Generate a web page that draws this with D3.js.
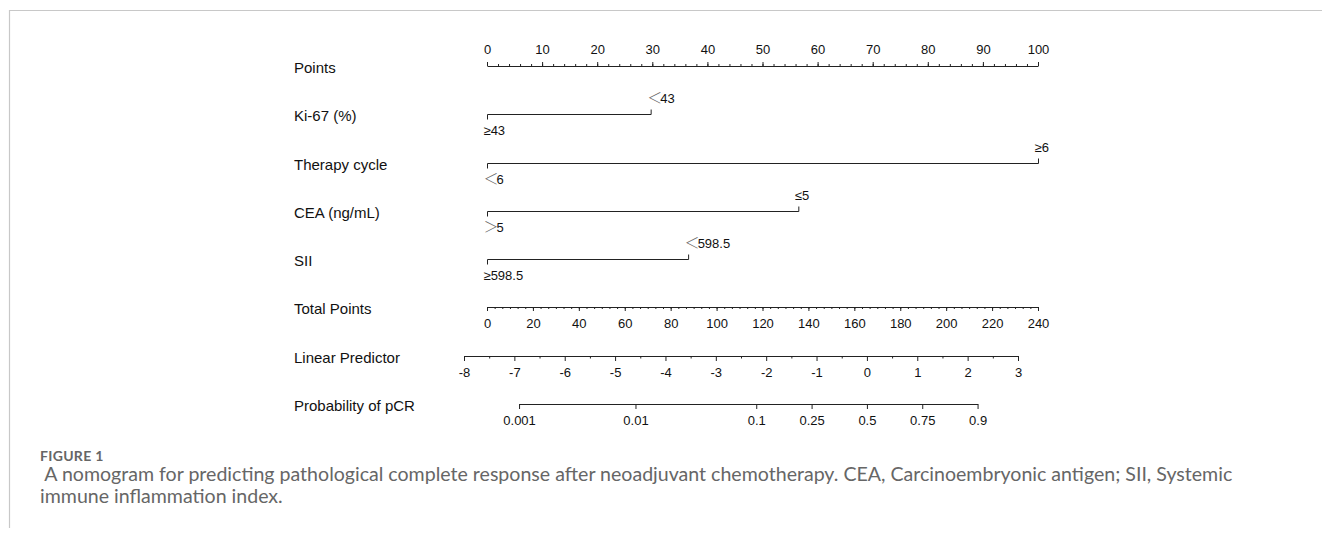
<!DOCTYPE html>
<html>
<head>
<meta charset="utf-8">
<script src="https://cdn.jsdelivr.net/npm/d3@7"></script>
<style>
  body { margin: 0; background: #fff; }
</style>
</head>
<body>
<svg id="main-svg" width="1322" height="533"></svg>
<script>
// ---- chart data ----
var rowNames = [ 'Points', 'Ki-67 (%)', 'Therapy cycle', 'CEA (ng/mL)', 'SII',
	'Total Points', 'Linear Predictor', 'Probability of pCR' ];

var variables = [ 'Ki-67 (%)', 'Therapy cycle', 'CEA (ng/mL)', 'SII' ];
var maxPoints = [ 29.7, 100, 56.5, 36.5 ];          // points of the upper level
var lowLabels = [ '≥43', '＜6', '＞5', '≥598.5' ];   // level at 0 points
var highLabels = [ '＜43', '≥6', '≤5', '＜598.5' ];  // level at maxPoints

var pointTicks = [ 0, 10, 20, 30, 40, 50, 60, 70, 80, 90, 100 ];
var totalTicks = [ 0, 20, 40, 60, 80, 100, 120, 140, 160, 180, 200, 220, 240 ];
var lpTicks = [ -8, -7, -6, -5, -4, -3, -2, -1, 0, 1, 2, 3 ];
var lpLabels = [ '-8', '-7', '-6', '-5', '-4', '-3', '-2', '-1', '0', '1', '2', '3' ];
var probTicks = [ 0.001, 0.01, 0.1, 0.25, 0.5, 0.75, 0.9 ];
var probLabels = [ '0.001', '0.01', '0.1', '0.25', '0.5', '0.75', '0.9' ];

var figureLabel = 'FIGURE 1';
var captionLines = [
	' A nomogram for predicting pathological complete response after neoadjuvant chemotherapy. CEA, Carcinoembryonic antigen; SII, Systemic',
	'immune inflammation index.'
];

// ---- setup ----
var FONT = "'Liberation Sans', Arial, sans-serif",
	INK = '#222',
	svg = d3.select( 'svg#main-svg' );

var rowScale = d3.scalePoint().domain( rowNames ).range( [ 66, 404 ] ),
	rowY = function( name ) { return Math.round( rowScale( name ) ); };

var xPoints = d3.scaleLinear().domain( [ 0, 100 ] ).range( [ 487, 1038 ] ),
	xTotal = d3.scaleLinear().domain( [ 0, 240 ] ).range( [ 487, 1038 ] ),
	xLP = d3.scaleLinear().domain( [ -8, 3 ] ).range( [ 464, 1018 ] ),
	logit = function( p ) { return Math.log( p / ( 1 - p ) ); };

// frame of the figure panel
svg.append( 'path' )
	.attr( 'd', 'M9.5,528V10.5H1322' )
	.attr( 'fill', 'none' )
	.attr( 'stroke', '#c8c8c8' )
	.attr( 'stroke-width', 1.2 );

// row labels
svg.append( 'g' )
	.attr( 'font-family', FONT )
	.attr( 'font-size', 15 )
	.attr( 'fill', '#111' )
	.selectAll( 'text' )
	.data( rowNames )
	.join( 'text' )
	.attr( 'x', 294 )
	.attr( 'y', function( d ) { return rowY( d ) + 6.5; } )
	.text( function( d ) { return d; } );

function drawAxis( axis, y, labelY ) {
	var g = svg.append( 'g' )
		.attr( 'transform', 'translate(0,' + y + ')' )
		.call( axis );
	g.attr( 'font-family', FONT ).attr( 'font-size', 13 ).attr( 'color', INK );
	g.selectAll( 'text' )
		.attr( 'fill', '#111' )
		.attr( 'y', labelY )
		.attr( 'dy', null );
	return g;
}

function drawMinor( axis, y ) {
	var g = svg.append( 'g' )
		.attr( 'transform', 'translate(0,' + y + ')' )
		.call( axis.tickFormat( '' ) );
	g.attr( 'color', INK );
	g.select( '.domain' ).remove();
	return g;
}

// level label; a leading full-width sign is drawn thin and grey as in the figure
function levelLabel( g, x, y, label ) {
	var t = g.append( 'text' )
		.attr( 'x', x )
		.attr( 'y', y )
		.attr( 'font-family', FONT )
		.attr( 'font-size', 13 )
		.attr( 'fill', '#111' );
	var first = label.charAt( 0 );
	if ( first === '＜' || first === '＞' ) {
		t.append( 'tspan' )
			.attr( 'font-family', "'Noto Sans CJK SC', 'Noto Sans CJK JP', sans-serif" )
			.attr( 'font-size', 15 )
			.attr( 'font-weight', 300 )
			.attr( 'fill', '#666' )
			.text( first );
		t.append( 'tspan' )
			.attr( 'dx', -2 )
			.text( label.slice( 1 ) );
	} else {
		t.text( label );
	}
}

// Points axis (ticks up)
var yPts = rowY( 'Points' );
drawAxis( d3.axisTop( xPoints ).tickValues( pointTicks ).tickSize( 4 ).tickSizeOuter( 0 ), yPts, -12 );
drawMinor( d3.axisTop( xPoints ).tickValues( d3.range( 0, 101, 2 ) ).tickSize( 2 ), yPts );

// variable rows
variables.forEach( function( name, i ) {
	var y = rowY( name ) + 0.5,
		x0 = xPoints( 0 ) + 0.5,
		x1 = xPoints( maxPoints[ i ] ) + 0.5,
		g = svg.append( 'g' );

	g.append( 'path' )
		.attr( 'd', 'M' + x0 + ',' + ( y + 5 ) + 'V' + y + 'H' + x1 + 'V' + ( y - 5 ) )
		.attr( 'fill', 'none' )
		.attr( 'stroke', INK );

	levelLabel( g, x1 - 4, y - 12, highLabels[ i ] );
	levelLabel( g, x0 - 4, y + 20.5, lowLabels[ i ] );
} );

// Total Points axis (ticks down)
var yTot = rowY( 'Total Points' );
drawAxis( d3.axisBottom( xTotal ).tickValues( totalTicks ).tickSize( 4 ).tickSizeOuter( 0 ), yTot, 20.5 );
drawMinor( d3.axisBottom( xTotal ).tickValues( d3.range( 0, 240.01, 20 / 6 ) ).tickSize( 2 ), yTot );

// Linear Predictor axis
var yLP = rowY( 'Linear Predictor' );
drawAxis( d3.axisBottom( xLP )
	.tickValues( lpTicks )
	.tickFormat( function( d, i ) { return lpLabels[ i ]; } )
	.tickSize( 5 ).tickSizeOuter( 0 ), yLP, 21 );
drawMinor( d3.axisBottom( xLP ).tickValues( d3.range( -7.5, 3, 1 ) ).tickSize( 2.5 ), yLP );

// Probability axis, placed on the logit scale
var yPr = rowY( 'Probability of pCR' ),
	prG = drawAxis( d3.axisBottom( xLP )
		.tickValues( probTicks.map( logit ) )
		.tickFormat( function( d, i ) { return probLabels[ i ]; } )
		.tickSize( 5 ).tickSizeOuter( 0 ), yPr, 21 );
prG.select( '.domain' )
	.attr( 'd', 'M' + ( xLP( logit( probTicks[ 0 ] ) ) + 0.5 ) + ',0.5H' +
		( xLP( logit( probTicks[ probTicks.length - 1 ] ) ) + 0.5 ) );

// caption
var capG = svg.append( 'g' )
	.attr( 'font-family', "Lato, 'Open Sans', sans-serif" )
	.attr( 'fill', '#666' );

capG.append( 'text' )
	.attr( 'x', 40 )
	.attr( 'y', 461 )
	.attr( 'font-size', 14 )
	.attr( 'font-weight', 700 )
	.attr( 'letter-spacing', 0.3 )
	.text( figureLabel );

var lines = capG.selectAll( 'text.cap' )
	.data( captionLines )
	.join( 'text' )
	.attr( 'class', 'cap' )
	.attr( 'x', 40 )
	.attr( 'y', function( d, i ) { return 481 + i * 21.5; } )
	.attr( 'font-size', 17 )
	.style( 'white-space', 'pre' )
	.text( function( d ) { return d; } );

// fit first caption line to end where it does in the figure
var w = lines.node().getComputedTextLength();
lines.attr( 'font-size', 17 * ( 1233 - 40 ) / w );
</script>
</body>
</html>
